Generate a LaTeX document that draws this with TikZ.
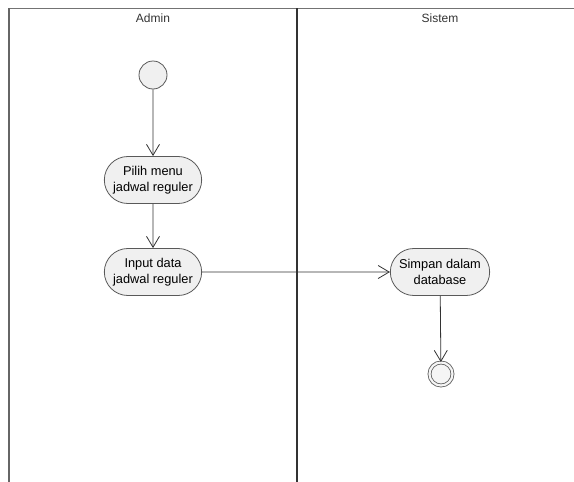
\documentclass[tikz,border=0pt]{standalone}
\usepackage{fontspec}
\setmainfont{Liberation Sans}
\usetikzlibrary{arrows.meta,shapes.misc}

\begin{document}
\begin{tikzpicture}[x=1pt, y=-1pt, line width=0.8pt,
    aksi/.style={rounded rectangle, draw=black!65, fill=black!6,
      minimum width=104pt, minimum height=47pt, align=center,
      font=\fontsize{12.8}{15.5}\selectfont},
    awal/.style={circle, draw=black!65, fill=black!6, minimum size=28pt},
    akhir/.style={circle, draw=black!65, fill=black!4, double=black!4,
      double distance=2.2pt, minimum size=23pt},
    panah/.style={draw=black!80, -{Straight Barb[length=11pt,width=13pt]}},
    judul/.style={font=\fontsize{12}{14}\selectfont, text=black!80}]
    \useasboundingbox (0,0) rectangle (574,482);

    % swimlane
    \draw[black!55] (9,8) -- (574,8);
    \draw[black!60, line width=1.2pt] (9,8) -- (9,482);
    \draw[black!80, line width=1.6pt] (297,8) -- (297,482);
    \node[judul] (admin) at (153,18) {Admin};
    \node[judul] (sistem) at (440,18) {Sistem};

    % aktivitas
    \node[awal] (mulai) at (153,75) {};
    \node[aksi] (pilih) at (153,180) {Pilih menu\\jadwal reguler};
    \node[aksi] (input) at (153,272) {Input data\\jadwal reguler};
    \node[aksi, minimum width=106pt] (simpan) at (440,272) {Simpan dalam\\database};
    \node[akhir] (selesai) at (441,374) {};

    % alur
    \draw[panah] (mulai) -- (pilih);
    \draw[panah] (pilih) -- (input);
    \draw[panah] (input) -- (simpan);
    \draw[panah] (simpan) -- (selesai);
\end{tikzpicture}
\end{document}
